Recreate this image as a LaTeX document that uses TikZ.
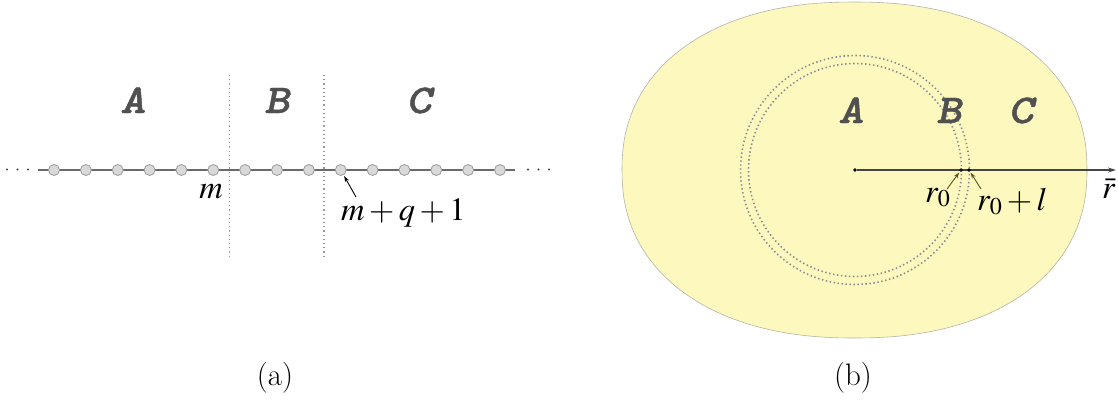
\documentclass[tikz,border=0pt]{standalone}
\usepackage[no-math]{fontspec}
\usepackage{mathptmx}
\setmainfont{Latin Modern Roman}
\newfontfamily\regfont{lmmonolt10-boldoblique.otf}[FakeStretch=1.18,FakeBold=1.0]
\usetikzlibrary{arrows.meta}
\definecolor{beadfill}{HTML}{D9D9D9}
\definecolor{beaddraw}{HTML}{9A9A9A}
\definecolor{chaincol}{HTML}{6A6A6A}
\definecolor{sepcol}{HTML}{9A9A9A}
\definecolor{regcol}{HTML}{505050}
\definecolor{blobfill}{HTML}{FCF8BE}
\definecolor{blobdraw}{HTML}{B4B4AA}
\definecolor{circcol}{HTML}{8A8A92}
\definecolor{olivecol}{HTML}{555522}
\definecolor{axiscol}{HTML}{454545}
\begin{document}
\begin{tikzpicture}[x=1pt,y=-1pt,
  bead/.style={circle,draw=beaddraw,fill=beadfill,minimum size=11pt,inner sep=0pt,line width=0.8pt},
  chainline/.style={draw=chaincol,line width=1.5pt},
  sepline/.style={draw=sepcol,line width=1.1pt,dash pattern=on 1.2pt off 3pt},
  ellip/.style={circle,fill=axiscol,minimum size=2.4pt,inner sep=0pt},
  reglabel/.style={text=regcol,inner sep=0pt,anchor=base,font=\fontsize{41}{45}\selectfont\regfont},
  mathlabel/.style={inner sep=0pt,font=\fontsize{32.5}{38}\selectfont},
  caplabel/.style={inner sep=0pt,anchor=base,font=\fontsize{31}{36}\selectfont},
  blob/.style={draw=blobdraw,fill=blobfill,line width=0.6pt},
  circdot/.style={draw=circcol,line width=1.6pt,dash pattern=on 1.4pt off 2.6pt},
  dotpt/.style={circle,fill=black,minimum size=3.6pt,inner sep=0pt},
  axis/.style={draw=axiscol,line width=1.2pt,-{Stealth[length=8pt,width=5pt]}},
  smallarrow/.style={draw=black,line width=0.9pt,-{Stealth[length=6pt,width=4pt]}},
  olivearrow/.style={draw=olivecol,line width=0.9pt,-{Stealth[length=6pt,width=4pt]}}
]
\useasboundingbox (0,0) rectangle (1118,400);

% ---------- (a) ----------
\coordinate (cl) at (38,170);
\coordinate (cr) at (515,170);
\draw[chainline] (cl) -- (cr);
\foreach \i in {0,...,14} \node[bead] (b\i) at ({54+31.857*\i},170) {};
\node[ellip] (el1) at (7,169.5) {};
\node[ellip] (el2) at (17.5,169.5) {};
\node[ellip] (el3) at (28,169.5) {};
\node[ellip] (er1) at (528,169.5) {};
\node[ellip] (er2) at (538.5,169.5) {};
\node[ellip] (er3) at (549,169.5) {};

\coordinate (s1t) at (229.5,75);
\coordinate (s1b) at (229.5,258);
\coordinate (s2t) at (324,75);
\coordinate (s2b) at (324,258);
\draw[sepline] (s1t) -- (s1b);
\draw[sepline] (s2t) -- (s2b);

\node[reglabel] (LA) at (133,113) {A};
\node[reglabel] (LB) at (277,113) {B};
\node[reglabel] (LC) at (419,113) {C};

\node[mathlabel,anchor=base] (lm) at (211,198) {$m$};
\node[mathlabel,anchor=base west] (lmq) at (341,220) {$m+q+1$};
\coordinate (mqtail) at (356,197);
\draw[smallarrow,shorten >=1pt] (mqtail) -- (b9);

\node[caplabel] (capa) at (275,385) {(a)};

% ---------- (b) ----------
\draw[blob] plot[domain=0.5:358.5,samples=180,variable=\t]
  ({854.5+232.5*sign(cos(\t))*abs(cos(\t))^(0.9)},
   {170+168*sign(sin(\t))*abs(sin(\t))^(0.9)}) -- cycle;

\node[dotpt] (cen) at (855,170) {};
\draw[circdot] (cen) circle[radius=106.5];
\draw[circdot] (cen) circle[radius=114.5];

\coordinate (axend) at (1116,170);
\draw[axis] (cen) -- (axend);
\node[dotpt] (p0) at (961,170) {};
\node[dotpt] (p1) at (969,170) {};

\node[reglabel] (RA) at (851,123) {A};
\node[reglabel] (RB) at (949,123) {B};
\node[reglabel] (RC) at (1021,123) {C};

\node[mathlabel,anchor=base west] (lr0) at (925,202) {$r_0$};
\node[mathlabel,anchor=base west] (lr0l) at (977,210) {$r_0+l$};
\node[mathlabel,anchor=base west] (lrbar) at (1102,198) {$\bar{r}$};
\coordinate (r0tail) at (947,189);
\coordinate (r0ltail) at (981,189);
\draw[olivearrow,shorten >=1pt] (r0tail) -- (p0);
\draw[olivearrow,shorten >=1pt] (r0ltail) -- (p1);

\node[caplabel] (capb) at (853,385) {(b)};
\end{tikzpicture}
\end{document}
